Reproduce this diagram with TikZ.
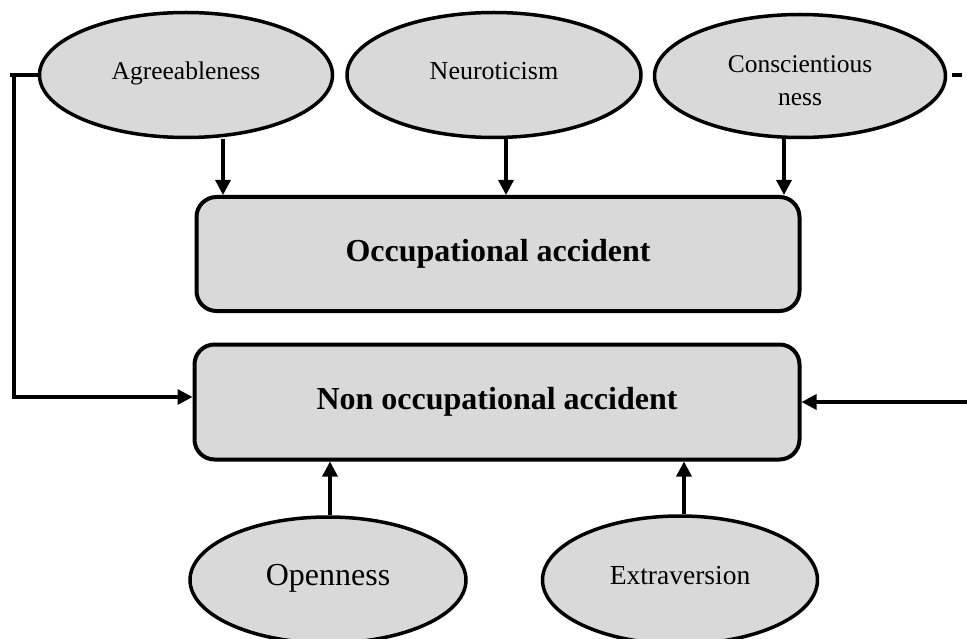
\documentclass[tikz,border=0pt]{standalone}
\usepackage{fontspec}
\setmainfont{Liberation Serif}
\usetikzlibrary{shapes.geometric,arrows.meta}
\begin{document}
\begin{tikzpicture}[x=1pt,y=-1pt,
  trait/.style={ellipse,draw=black,line width=3.5pt,fill=gray!30,inner sep=0pt,align=center},
  acc/.style={rectangle,rounded corners=20pt,draw=black,line width=4pt,fill=gray!30,inner sep=0pt,font=\fontsize{32}{36}\selectfont\bfseries},
  arr/.style={line width=3.3pt,-{Triangle[length=15pt,width=15pt]}},
  ln/.style={line width=3.3pt}]
\useasboundingbox (0,0) rectangle (967,639);
\fill[white] (0,0) rectangle (967,639);
% trait ellipses
\node[trait,minimum width=293pt,minimum height=125pt,font=\fontsize{25.5}{30}\selectfont] (agree) at (186,75) {\raisebox{8pt}{Agreeableness}};
\node[trait,minimum width=294pt,minimum height=125pt,font=\fontsize{26}{30}\selectfont] (neuro) at (494,75) {\raisebox{9pt}{Neuroticism}};
\node[trait,minimum width=291pt,minimum height=123pt,font=\fontsize{25.5}{33}\selectfont] (consc) at (800,76) {\raisebox{-13pt}[0pt][0pt]{\begin{tabular}{@{}c@{}}Conscientious\\ness\end{tabular}}};
\node[trait,minimum width=276pt,minimum height=126pt,font=\fontsize{32}{36}\selectfont] (open) at (328,580) {\raisebox{10pt}{Openness}};
\node[trait,minimum width=275pt,minimum height=128pt,font=\fontsize{27.5}{32}\selectfont] (extra) at (680,580) {\raisebox{10pt}{Extraversion}};
% accident boxes
\node[acc,minimum width=603pt,minimum height=114pt] (occ) at (498,254) {Occupational accident};
\node[acc,minimum width=605pt,minimum height=115pt] (non) at (497,402) {Non occupational accident};
% arrows into occupational accident
\draw[arr] ([xshift=37pt]agree.south) -- ([xshift=37pt]agree.south |- occ.north);
\draw[arr] ([xshift=12pt]neuro.south) -- ([xshift=12pt]neuro.south |- occ.north);
\draw[arr] ([xshift=-16pt]consc.south) -- ([xshift=-16pt]consc.south |- occ.north);
% arrows into non occupational accident
\draw[arr] ([xshift=2pt]open.north) -- ([xshift=2pt]open.north |- non.south);
\draw[arr] ([xshift=4pt]extra.north) -- ([xshift=4pt]extra.north |- non.south);
% left connector
\coordinate (l1) at (10,73);
\coordinate (l2) at (14,73);
\coordinate (l3) at (14,397);
\draw[ln] (agree.west) -- (agree.west -| l1);
\draw[arr] (l2) -- (l3) -- (l3 -| non.west);
% right connector
\coordinate (d1) at (952,75);
\coordinate (d2) at (962,75);
\draw[ln] (d1) -- (d2);
\coordinate (r1) at (967,402);
\draw[arr] (r1) -- (r1 -| non.east);
\end{tikzpicture}
\end{document}
